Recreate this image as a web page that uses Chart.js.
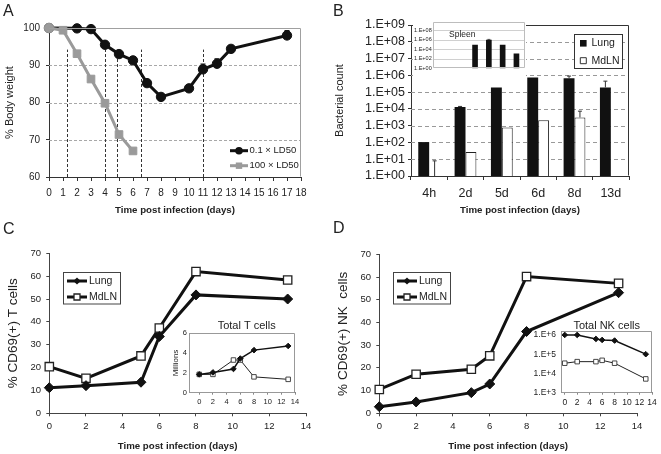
<!DOCTYPE html>
<html><head><meta charset="utf-8">
<script src="https://cdn.jsdelivr.net/npm/chart.js@4.4.0/dist/chart.umd.min.js"></script>
<style>
html,body{margin:0;padding:0;background:#fff;}
#wrap{position:relative;width:661px;height:454px;overflow:hidden;font-family:"Liberation Sans",Arial,sans-serif;background:#fff;}
canvas{position:absolute;}
.lab{position:absolute;font-size:16px;color:#222;line-height:1;}
</style></head><body>
<div id="wrap">
<canvas id="cA" width="330" height="220" style="left:0;top:0"></canvas>
<canvas id="cB" width="331" height="220" style="left:330px;top:0"></canvas>
<canvas id="cBi" width="113" height="70" style="left:413px;top:17px"></canvas>
<canvas id="cC" width="330" height="234" style="left:0;top:220px"></canvas>
<canvas id="cCi" width="135" height="94" style="left:165px;top:318px"></canvas>
<canvas id="cD" width="331" height="234" style="left:330px;top:220px"></canvas>
<canvas id="cDi" width="131" height="94" style="left:530px;top:318px"></canvas>
<div class="lab" style="left:3px;top:3px">A</div>
<div class="lab" style="left:333px;top:3px">B</div>
<div class="lab" style="left:3px;top:221px">C</div>
<div class="lab" style="left:333px;top:220px">D</div>
</div>
<script>
// ---------- Panel A data ----------
const aDaysLow   = [0, 2, 3, 4, 5, 6, 7, 8, 10, 11, 12, 13, 17];
const aWeightLow = [100, 99.9, 99.7, 95.5, 93.0, 91.3, 85.2, 81.5, 83.8, 88.9, 90.4, 94.4, 98.0];
const aErrLow    = [0, 0, 0, 0, 0, 0, 0, 0, 0, 1.4, 1.3, 0, 1.3];
const aDaysHigh   = [0, 1, 2, 3, 4, 5, 6];
const aWeightHigh = [100, 99.4, 93.1, 86.3, 79.8, 71.4, 67.0];
const aMarkDays = [1.3, 4, 4.85, 6.6, 11];
const aMarkTop = 94.2;
const aXTicks = [0,1,2,3,4,5,6,7,8,9,10,11,12,13,14,15,16,17,18];
const aYTicks = [60, 70, 80, 90, 100];
const aGrid = [70, 80, 90];
const aSeries = ['0.1 \u00d7 LD50', '100 \u00d7 LD50'];

// ---------- Panel B data ----------
const bCats = ['4h', '2d', '5d', '6d', '8d', '13d'];
const bLung    = [105, 13000, 190000, 750000, 660000, 190000];
const bLungHi  = [null, 14000, null, null, 900000, 450000];
const bMdln    = [1, 27, 780, 2100, 3100, null];
const bMdlnHi  = [8, null, null, null, 7300, null];
const bYTicks  = [1, 1e1, 1e2, 1e3, 1e4, 1e5, 1e6, 1e7, 1e8, 1e9];
const bYLabels = ['1.E+00','1.E+01','1.E+02','1.E+03','1.E+04','1.E+05','1.E+06','1.E+07','1.E+08','1.E+09'];
const bGrid = [1e1, 1e2, 1e3, 1e4, 1e5, 1e6, 1e7, 1e8];
const spleen   = [null, null, 73000, 800000, 73000, 1100];
const spleenHi = [null, null, null, 1100000, null, null];
const spleenTicks  = [1, 1e2, 1e4, 1e6, 1e8];
const spleenLabels = ['1.E+00','1.E+02','1.E+04','1.E+06','1.E+08'];
const spleenIdx = [0, 1, 2, 3, 4, 5];

// ---------- Panel C data ----------
const cDays = [0, 2, 5, 6, 8, 13];
const cLung = [11.2, 12.1, 13.6, 33.6, 51.8, 50.0];
const cMdln = [20.4, 15.3, 25.1, 37.3, 62.0, 58.3];
const ciLung = [1.85, 2.05, 2.4, 3.45, 4.3, 4.72];
const ciMdln = [1.85, 1.85, 3.3, 3.3, 1.6, 1.35];

// ---------- Panel D data ----------
const dDays = [0, 2, 5, 6, 8, 13];
const dLung = [2.9, 5.0, 9.1, 12.9, 36.0, 53.1];
const dMdln = [10.5, 17.2, 19.4, 25.3, 60.2, 57.2];
const diLung = [1000000, 1000000, 620000, 550000, 510000, 100000];
const diMdln = [34000, 41000, 41000, 48000, 34000, 5200];

const lineTicks = [0, 2, 4, 6, 8, 10, 12, 14];
const pctTicks = [0, 10, 20, 30, 40, 50, 60, 70];
const millTicks = [0, 2, 4, 6];
const nkTicks = [1e3, 1e4, 1e5, 1e6];
const nkLabels = ['1.E+3', '1.E+4', '1.E+5', '1.E+6'];
const legendNames = ['Lung', 'MdLN'];

// ---------- helpers ----------
const FF = '"Liberation Sans", Arial, sans-serif';
Chart.defaults.font.family = FF;
Chart.defaults.color = '#222';

function fixY(w){return function(s){s.width=w;s.paddingLeft=0;s.paddingRight=0;s.paddingTop=0;s.paddingBottom=0;};}
function fixX(h){return function(s){s.height=h;s.paddingLeft=0;s.paddingRight=0;s.paddingTop=0;s.paddingBottom=0;};}
function setTicks(vals){return function(s){s.ticks=vals.map(v=>({value:v}));};}
function pts(xs,ys){return xs.map((x,i)=>({x:x,y:ys[i]}));}

function mark(ctx, style, x, y, r, fill, stroke, lw){
  ctx.save(); ctx.beginPath();
  if(style==='circle') ctx.arc(x,y,r,0,Math.PI*2);
  else if(style==='rect') ctx.rect(x-r,y-r,2*r,2*r);
  else { ctx.moveTo(x,y-r); ctx.lineTo(x+r,y); ctx.lineTo(x,y+r); ctx.lineTo(x-r,y); ctx.closePath(); }
  ctx.fillStyle=fill; ctx.fill();
  if(stroke){ ctx.lineWidth=lw||1; ctx.strokeStyle=stroke; ctx.stroke(); }
  ctx.restore();
}

function makeDeco(o){
  return {
    id:'deco',
    beforeDraw(chart){
      const ctx=chart.ctx, a=chart.chartArea;
      if(o.bgCanvas){ctx.save();ctx.fillStyle=o.bgCanvas;ctx.fillRect(0,0,chart.width,chart.height);ctx.restore();}
      if(o.bgArea){ctx.save();ctx.fillStyle=o.bgArea;ctx.fillRect(a.left,a.top,a.right-a.left,a.bottom-a.top);ctx.restore();}
    },
    beforeDatasetsDraw(chart){
      const ctx=chart.ctx, a=chart.chartArea, xs=chart.scales.x, ys=chart.scales.y;
      if(o.hgrid){
        const g=o.hgrid; ctx.save(); ctx.strokeStyle=g.color; ctx.lineWidth=1; ctx.setLineDash(g.dash||[]);
        g.values.forEach(v=>{const y=Math.round(ys.getPixelForValue(v))+0.5; ctx.beginPath(); ctx.moveTo(a.left,y); ctx.lineTo(a.right,y); ctx.stroke();});
        ctx.restore();
      }
      if(o.vlines){
        const g=o.vlines; ctx.save(); ctx.strokeStyle=g.color; ctx.lineWidth=1; ctx.setLineDash(g.dash||[]);
        const y1=ys.getPixelForValue(ys.min), y2=ys.getPixelForValue(g.top);
        g.values.forEach(v=>{const x=Math.round(xs.getPixelForValue(v))+0.5; ctx.beginPath(); ctx.moveTo(x,y1); ctx.lineTo(x,y2); ctx.stroke();});
        ctx.restore();
      }
    },
    afterDatasetsDraw(chart){
      const ctx=chart.ctx, ys=chart.scales.y;
      (o.err||[]).forEach(s=>{
        const meta=chart.getDatasetMeta(s.ds);
        s.hi.forEach((h,i)=>{
          if(h==null) return; const el=meta.data[i]; if(!el) return;
          const yt=ys.getPixelForValue(h);
          ctx.save(); ctx.strokeStyle=s.color; ctx.lineWidth=s.width; ctx.beginPath();
          ctx.moveTo(el.x, el.y); ctx.lineTo(el.x, yt); ctx.moveTo(el.x-s.cap, yt); ctx.lineTo(el.x+s.cap, yt); ctx.stroke(); ctx.restore();
        });
      });
    },
    afterDraw(chart){
      const ctx=chart.ctx, a=chart.chartArea;
      if(o.frame){
        ctx.save(); ctx.strokeStyle=o.frame.color; ctx.lineWidth=1; ctx.beginPath();
        const L=Math.round(a.left)+0.5, R=Math.round(a.right)-0.5, T=Math.round(a.top)+0.5, B=Math.round(a.bottom)-0.5;
        if(o.frame.all){ ctx.rect(L,T,R-L,B-T); }
        else { ctx.moveTo(L,T); ctx.lineTo(R,T); ctx.lineTo(R,B); }
        ctx.stroke(); ctx.restore();
      }
      if(o.legend){
        const lg=o.legend;
        if(lg.box){ const b=lg.box; ctx.save(); ctx.fillStyle='#fff'; ctx.fillRect(b[0],b[1],b[2]-b[0],b[3]-b[1]); ctx.strokeStyle=b[4]; ctx.lineWidth=1; ctx.strokeRect(b[0]+0.5,b[1]+0.5,b[2]-b[0],b[3]-b[1]); ctx.restore(); }
        lg.rows.forEach(r=>{
          if(r.line){ ctx.save(); ctx.strokeStyle=r.line[2]; ctx.lineWidth=r.line[3]; ctx.beginPath(); ctx.moveTo(r.line[0],r.y); ctx.lineTo(r.line[1],r.y); ctx.stroke(); ctx.restore(); }
          if(r.mk){ mark(ctx, r.mk[0], r.mk[1], r.y, r.mk[2], r.mk[3], r.mk[4], r.mk[5]); }
          ctx.save(); ctx.font=r.font; ctx.fillStyle='#222'; ctx.textAlign='left'; ctx.textBaseline='middle'; ctx.fillText(r.text, r.tx, r.y); ctx.restore();
        });
      }
      (o.texts||[]).forEach(t=>{ctx.save(); ctx.font=t.font; ctx.fillStyle='#222'; ctx.textAlign=t.align||'left'; ctx.textBaseline='middle'; ctx.fillText(t.text,t.x,t.y); ctx.restore();});
    }
  };
}

function baseOpts(pad){
  return {responsive:false, animation:false, events:[], layout:{padding:pad},
          plugins:{legend:{display:false}, tooltip:{enabled:false}}};
}

// ---------- Chart A ----------
(function(){
  const o = baseOpts({left:0, top:28, right:29, bottom:0});
  o.scales = {
    x:{type:'linear', min:0, max:18, afterBuildTicks:setTicks(aXTicks), afterFit:fixX(43),
       grid:{drawOnChartArea:false, tickLength:4, tickColor:'#333'}, border:{color:'#333'},
       ticks:{font:{size:10}, padding:6, autoSkip:false, maxRotation:0, minRotation:0},
       title:{display:true, text:'Time post infection (days)', font:{size:9.7, weight:'bold'}, padding:{top:0, bottom:4.2}}},
    y:{type:'linear', min:60, max:100, afterBuildTicks:setTicks(aYTicks), afterFit:fixY(49),
       grid:{drawOnChartArea:false, tickLength:3, tickColor:'#333'}, border:{color:'#333'},
       ticks:{font:{size:10}, padding:6, autoSkip:false},
       title:{display:true, text:'% Body weight', font:{size:11}, padding:{top:3.4, bottom:0}}}
  };
  const hi = aWeightLow.map((v,i)=>aErrLow[i]>0 ? v+aErrLow[i] : null);
  new Chart(document.getElementById('cA'), {
    type:'line',
    data:{datasets:[
      {label:aSeries[0], data:pts(aDaysLow,aWeightLow), order:2, clip:false, borderColor:'#111', borderWidth:3, tension:0,
       pointStyle:'circle', pointRadius:4.7, pointBackgroundColor:'#111', pointBorderColor:'#111', pointBorderWidth:1},
      {label:aSeries[1], data:pts(aDaysHigh,aWeightHigh), order:1, clip:false, borderColor:'#9a9a9a', borderWidth:3, tension:0,
       pointStyle:(c)=>c.dataIndex===0?'circle':'rect', pointRadius:(c)=>c.dataIndex===0?4.7:5.4,
       pointBackgroundColor:'#9a9a9a', pointBorderColor:'#9a9a9a', pointBorderWidth:1}
    ]},
    options:o,
    plugins:[makeDeco({
      hgrid:{values:aGrid, color:'#a8a8a8', dash:[3,2]},
      vlines:{values:aMarkDays, top:aMarkTop, color:'#333', dash:[3,2]},
      frame:{color:'#a0a0a0'},
      err:[{ds:0, hi:hi, cap:2.5, color:'#111', width:1.2}],
      legend:{rows:[
        {y:150.7, line:[230,248,'#111',3], mk:['circle',239,3.8,'#111'], text:aSeries[0], tx:249.5, font:'9.5px '+FF},
        {y:165.7, line:[230,248,'#9a9a9a',3], mk:['rect',239,3.2,'#9a9a9a'], text:aSeries[1], tx:249.5, font:'9.5px '+FF}
      ]}
    })]
  });
})();

// ---------- Chart B ----------
(function(){
  const o = baseOpts({left:0, top:25, right:32, bottom:0});
  o.datasets = {bar:{categoryPercentage:0.6, barPercentage:1}};
  o.scales = {
    x:{type:'category', afterFit:fixX(44),
       grid:{drawOnChartArea:false, offset:true, tickLength:4, tickColor:'#333'}, border:{color:'#333'},
       ticks:{font:{size:12.5}, padding:6, autoSkip:false, maxRotation:0, minRotation:0},
       title:{display:true, text:'Time post infection (days)', font:{size:9.7, weight:'bold'}, padding:{top:0, bottom:4.2}}},
    y:{type:'logarithmic', min:1, max:1e9, afterBuildTicks:setTicks(bYTicks), afterFit:fixY(81),
       grid:{drawOnChartArea:false, tickLength:3, tickColor:'#333'}, border:{color:'#333'},
       ticks:{font:{size:12.5}, padding:3, autoSkip:false, callback:(v,i)=>bYLabels[i]},
       title:{display:true, text:'Bacterial count', font:{size:11}, padding:{top:3.4, bottom:0}}}
  };
  new Chart(document.getElementById('cB'), {
    type:'bar',
    data:{labels:bCats, datasets:[
      {label:legendNames[0], data:bLung, backgroundColor:'#111', borderColor:'#111', borderWidth:0},
      {label:legendNames[1], data:bMdln, backgroundColor:'#fff', borderColor:'#222', borderWidth:1}
    ]},
    options:o,
    plugins:[makeDeco({
      hgrid:{values:bGrid, color:'#999', dash:[4,3]},
      frame:{color:'#333'},
      err:[{ds:0, hi:bLungHi, cap:2, color:'#333', width:1},{ds:1, hi:bMdlnHi, cap:2, color:'#333', width:1}],
      legend:{box:[244,34,292,68,'#333'], rows:[
        {y:43.3, mk:['rect',253.3,3.3,'#111'], text:legendNames[0], tx:261.5, font:'10.5px '+FF},
        {y:60.7, mk:['rect',253.3,3,'#fff','#333',1], text:legendNames[1], tx:261.5, font:'10.5px '+FF}
      ]}
    })]
  });
})();

// ---------- Chart B inset (Spleen) ----------
(function(){
  const o = baseOpts({left:0, top:4.5, right:1, bottom:0});
  o.scales = {
    x:{type:'linear', min:-1.07, max:5.62, offset:false, afterBuildTicks:setTicks(spleenIdx), afterFit:fixX(18.7),
       grid:{display:false}, border:{display:false},
       ticks:{font:{size:5.5}, padding:10, autoSkip:false, maxRotation:0, minRotation:0, callback:(v,i)=>bCats[i]}},
    y:{type:'logarithmic', min:1, max:6e9, afterBuildTicks:setTicks(spleenTicks), afterFit:fixY(19.7),
       grid:{drawOnChartArea:false, drawTicks:false}, border:{display:false},
       ticks:{font:{size:5.5}, padding:1, autoSkip:false, callback:(v,i)=>spleenLabels[i]}}
  };
  new Chart(document.getElementById('cBi'), {
    type:'bar',
    data:{datasets:[{label:'Spleen', data:pts(spleenIdx, spleen), backgroundColor:'#111', barThickness:5}]},
    options:o,
    plugins:[makeDeco({
      bgCanvas:'#fff',
      hgrid:{values:[1e2,1e4,1e6,1e8], color:'#d0d0d0', dash:[]},
      frame:{color:'#bdbdbd', all:true},
      err:[{ds:0, hi:spleenHi, cap:1.5, color:'#333', width:0.8}],
      texts:[{text:'Spleen', x:36, y:18, font:'8.5px '+FF}]
    })]
  });
})();

// ---------- Main line charts C & D ----------
function mainLine(id, days, lung, mdln, ytitle, ypad){
  const o = baseOpts({left:0, top:ypad, right:24, bottom:0});
  o.scales = {
    x:{type:'linear', min:0, max:14, afterBuildTicks:setTicks(lineTicks), afterFit:fixX(40.7),
       grid:{drawOnChartArea:false, tickLength:3, tickColor:'#444'}, border:{color:'#444'},
       ticks:{font:{size:9.5}, padding:4.7, autoSkip:false, maxRotation:0, minRotation:0},
       title:{display:true, text:'Time post infection (days)', font:{size:9.7, weight:'bold'}, padding:{top:0, bottom:1.5}}},
    y:{type:'linear', min:0, max:70, afterBuildTicks:setTicks(pctTicks), afterFit:fixY(49.3),
       grid:{drawOnChartArea:false, tickLength:3, tickColor:'#444'}, border:{color:'#444'},
       ticks:{font:{size:9.5}, padding:5.3, autoSkip:false},
       title:{display:true, text:ytitle, font:{size:13.5}, padding:{top:5, bottom:0}}}
  };
  new Chart(document.getElementById(id), {
    type:'line',
    data:{datasets:[
      {label:legendNames[0], data:pts(days,lung), clip:false, borderColor:'#111', borderWidth:3, tension:0,
       pointStyle:'rectRot', pointRadius:5, pointBackgroundColor:'#111', pointBorderColor:'#111', pointBorderWidth:1},
      {label:legendNames[1], data:pts(days,mdln), clip:false, borderColor:'#111', borderWidth:3, tension:0,
       pointStyle:'rect', pointRadius:5.9, pointBackgroundColor:'#fff', pointBorderColor:'#222', pointBorderWidth:1.3}
    ]},
    options:o,
    plugins:[makeDeco({
      legend:{box:[63,52,120,83.5,'#444'], rows:[
        {y:61, line:[67,87,'#111',3], mk:['rectRot',77,3.6,'#111'], text:legendNames[0], tx:89, font:'10.5px '+FF},
        {y:77, line:[67,87,'#111',3], mk:['rect',77,3,'#fff','#222',1.3], text:legendNames[1], tx:89, font:'10.5px '+FF}
      ]}
    })]
  });
}
mainLine('cC', cDays, cLung, cMdln, '% CD69(+) T cells', 33.3);
mainLine('cD', dDays, dLung, dMdln, '% CD69(+) NK  cells', 34.3);

// ---------- Inset C (Total T cells) ----------
(function(){
  const o = baseOpts({left:0, top:15.3, right:5, bottom:0});
  o.scales = {
    x:{type:'linear', min:-1.5, max:14, afterBuildTicks:setTicks(lineTicks), afterFit:fixX(19.3),
       grid:{drawOnChartArea:false, tickLength:2, tickColor:'#888'}, border:{color:'#888'},
       ticks:{font:{size:7.5}, padding:2.5, autoSkip:false, maxRotation:0, minRotation:0}},
    y:{type:'linear', min:0, max:6, afterBuildTicks:setTicks(millTicks), afterFit:fixY(24),
       grid:{drawOnChartArea:false, drawTicks:false}, border:{color:'#888'},
       ticks:{font:{size:7.5}, padding:2, autoSkip:false},
       title:{display:true, text:'Millions', font:{size:8}, padding:{top:6, bottom:0}}}
  };
  new Chart(document.getElementById('cCi'), {
    type:'line',
    data:{datasets:[
      {label:legendNames[0], data:pts(cDays,ciLung), clip:false, borderColor:'#111', borderWidth:1.5, tension:0,
       pointStyle:'rectRot', pointRadius:2.8, pointBackgroundColor:'#111', pointBorderColor:'#111', pointBorderWidth:1},
      {label:legendNames[1], data:pts(cDays,ciMdln), clip:false, borderColor:'#222', borderWidth:1, tension:0,
       pointStyle:'rect', pointRadius:3.2, pointBackgroundColor:'#fff', pointBorderColor:'#333', pointBorderWidth:0.9}
    ]},
    options:o,
    plugins:[makeDeco({
      bgArea:'#fff', frame:{color:'#999', all:true},
      texts:[{text:'Total T cells', x:81.7, y:8, font:'11px '+FF, align:'center'}]
    })]
  });
})();

// ---------- Inset D (Total NK cells) ----------
(function(){
  const o = baseOpts({left:0, top:13, right:9, bottom:0});
  o.scales = {
    x:{type:'linear', min:-0.6, max:14, afterBuildTicks:setTicks(lineTicks), afterFit:fixX(19.3),
       grid:{drawOnChartArea:false, tickLength:2, tickColor:'#888'}, border:{color:'#888'},
       ticks:{font:{size:8.5}, padding:2.5, autoSkip:false, maxRotation:0, minRotation:0}},
    y:{type:'logarithmic', min:1000, max:1.6e6, afterBuildTicks:setTicks(nkTicks), afterFit:fixY(31),
       grid:{drawOnChartArea:false, drawTicks:false}, border:{color:'#888'},
       ticks:{font:{size:8.5}, padding:5, autoSkip:false, callback:(v,i)=>nkLabels[i]}}
  };
  new Chart(document.getElementById('cDi'), {
    type:'line',
    data:{datasets:[
      {label:legendNames[0], data:pts(dDays,diLung), clip:false, borderColor:'#111', borderWidth:1.5, tension:0,
       pointStyle:'rectRot', pointRadius:2.8, pointBackgroundColor:'#111', pointBorderColor:'#111', pointBorderWidth:1},
      {label:legendNames[1], data:pts(dDays,diMdln), clip:false, borderColor:'#222', borderWidth:1, tension:0,
       pointStyle:'rect', pointRadius:3.2, pointBackgroundColor:'#fff', pointBorderColor:'#333', pointBorderWidth:0.9}
    ]},
    options:o,
    plugins:[makeDeco({
      bgArea:'#fff', frame:{color:'#999', all:true},
      texts:[{text:'Total NK cells', x:76.7, y:8, font:'11px '+FF, align:'center'}]
    })]
  });
})();
</script>
</body></html>
